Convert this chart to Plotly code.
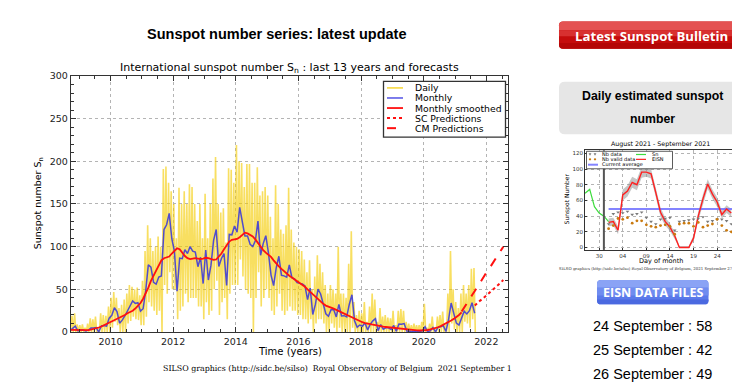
import plotly.graph_objects as go

W, H = 732, 390


def px(x):
    return x / W


def py(y):
    return 1 - y / H


# ---------------- International sunspot number, last 13 years ----------------
first_year, first_month = 2008, 9

monthly_sn = [
    1.8, 4.8, 6.8, 1.3,
    2.4, 2.3, 1.2, 2.0, 4.6, 4.6, 5.2, 0.0, 7.1, 7.7, 6.9, 16.3,
    19.5, 28.5, 24.0, 10.4, 13.9, 18.8, 25.2, 29.6, 36.4, 33.6, 34.4, 24.5,
    27.3, 48.3, 78.6, 76.1, 58.2, 56.1, 64.5, 65.8, 120.1, 125.7, 139.1, 109.3,
    94.4, 47.8, 86.6, 85.9, 96.5, 92.0, 100.1, 94.8, 93.7, 76.5, 87.6, 56.8,
    96.1, 60.9, 78.3, 107.3, 120.2, 76.7, 86.2, 91.8, 54.5, 114.4, 113.9, 124.2,
    117.0, 146.1, 128.7, 112.5, 112.5, 102.9, 100.2, 106.9, 130.0, 90.0, 103.6, 112.9,
    93.0, 66.7, 54.5, 75.3, 88.8, 66.5, 65.8, 64.4, 78.6, 63.6, 62.2, 58.0,
    57.0, 56.4, 54.1, 37.9, 51.5, 20.5, 32.4, 50.2, 44.6, 33.4, 21.4, 18.5,
    26.1, 26.4, 17.7, 32.3, 18.9, 19.2, 17.8, 32.6, 43.7, 13.2, 5.7, 8.2,
    6.8, 10.7, 2.5, 8.9, 13.1, 15.6, 1.6, 8.7, 3.3, 4.9, 4.9, 3.1,
    7.7, 0.8, 9.4, 9.1, 9.9, 1.2, 0.9, 0.5, 1.1, 0.4, 0.5, 1.5,
    6.2, 0.2, 1.5, 5.2, 0.2, 5.8, 6.1, 7.5, 0.6, 14.4, 34.0, 21.8,
    10.4, 8.2, 17.2, 24.5, 21.2, 25.0, 34.3, 22.0,
]

# highest and lowest daily value within each month
daily_high = [
    14, 19, 22, 9,
    8, 9, 5, 10, 16, 15, 18, 5, 22, 20, 19, 30,
    40, 47, 40, 28, 32, 38, 45, 55, 53, 50, 52, 43,
    60, 95, 125, 110, 95, 100, 112, 100, 191, 194, 175, 165,
    150, 110, 169, 150, 165, 150, 173, 170, 150, 130, 150, 110,
    162, 110, 150, 180, 205, 150, 140, 145, 105, 192, 190, 175,
    219, 200, 198, 170, 197, 197, 175, 175, 193, 160, 165, 170,
    160, 135, 110, 172, 150, 120, 115, 125, 169, 120, 105, 100,
    97, 95, 85, 70, 84, 50, 65, 90, 80, 70, 55, 45,
    55, 50, 45, 100, 45, 45, 40, 80, 118, 35, 20, 25,
    22, 35, 12, 30, 45, 38, 12, 28, 18, 20, 17, 16,
    25, 8, 25, 27, 25, 12, 10, 8, 10, 8, 8, 12,
    33, 5, 10, 18, 5, 18, 20, 24, 8, 45, 95, 50,
    35, 28, 45, 55, 45, 55, 74, 75,
]
daily_low = [
    0, 0, 0, 0,
    0, 0, 0, 0, 0, 0, 0, 0, 0, 0, 0, 0,
    5, 12, 8, 0, 0, 0, 10, 13, 18, 15, 14, 8,
    8, 18, 35, 30, 25, 20, 25, 0, 55, 45, 70, 50,
    50, 15, 25, 30, 45, 35, 40, 40, 40, 30, 30, 15,
    35, 20, 25, 50, 60, 20, 35, 40, 15, 45, 55, 55,
    55, 85, 65, 50, 45, 40, 0, 40, 70, 30, 40, 50,
    40, 25, 20, 30, 45, 25, 20, 25, 30, 25, 25, 20,
    20, 15, 15, 10, 15, 0, 10, 15, 15, 10, 0, 0,
    10, 5, 0, 5, 0, 0, 0, 0, 5, 0, 0, 0,
    0, 0, 0, 0, 0, 0, 0, 0, 0, 0, 0, 0,
    0, 0, 0, 0, 0, 0, 0, 0, 0, 0, 0, 0,
    0, 0, 0, 0, 0, 0, 0, 0, 0, 0, 10, 3,
    0, 0, 0, 12, 10, 5, 15, 0,
]

smoothed_sn = [
    2.6, 2.5, 2.4, 2.2,
    1.9, 2.0, 2.1, 2.3, 2.8, 3.4, 4.2, 5.3, 6.5, 8.0, 9.5, 11.0,
    12.5, 14.0, 15.5, 16.5, 18.0, 20.0, 22.0, 23.5, 25.0, 27.5, 30.5, 34.0,
    39.0, 45.0, 52.0, 60.0, 66.0, 73.0, 79.0, 84.0, 86.5, 87.5, 88.5, 92.0,
    95.5, 98.0, 97.0, 93.0, 89.0, 86.5, 85.5, 86.0, 86.5, 86.0, 85.5, 86.0,
    87.0, 86.5, 85.5, 84.5, 85.0, 88.0, 92.0, 97.0, 102.0, 106.0, 108.0, 108.5,
    109.0, 111.0, 114.0, 116.4, 115.5, 114.0, 112.0, 108.5, 104.0, 100.0, 96.0, 93.0,
    91.0, 88.0, 84.0, 80.0, 77.0, 74.0, 71.0, 68.0, 66.0, 64.0, 62.0, 60.0,
    58.0, 56.0, 53.0, 50.0, 47.0, 44.0, 41.0, 38.0, 35.0, 33.0, 31.0, 30.0,
    29.0, 27.5, 26.0, 24.5, 23.0, 21.5, 20.0, 18.5, 17.0, 15.5, 14.0, 12.5,
    11.5, 10.5, 9.8, 9.0, 8.3, 7.7, 7.2, 6.8, 6.3, 5.9, 5.5, 5.0,
    4.6, 4.2, 3.9, 3.6, 3.3, 3.0, 2.7, 2.4, 2.1, 1.9, 1.8, 1.8,
    2.0, 2.4, 3.0, 3.7, 4.5, 5.6, 6.9, 8.4, 10.0, 11.7, 13.5, 15.4,
    17.5, 20.0, 23.0,
]

# forecasts (decimal year, predicted smoothed number)
cm_years = [2021.21, 2021.29, 2021.38, 2021.46, 2021.54, 2021.63, 2021.71, 2021.79,
            2021.88, 2021.96, 2022.04, 2022.13, 2022.21, 2022.29, 2022.38, 2022.46, 2022.54]
cm_values = [24, 29, 34, 38.5, 43, 48, 53, 58, 62.5, 67, 72, 76.5, 81, 86, 90.5, 95, 100]
sc_years = [2021.63, 2021.71, 2021.79, 2021.88, 2021.96, 2022.04, 2022.13, 2022.21,
            2022.29, 2022.38, 2022.46, 2022.54]
sc_values = [31, 34, 36.5, 39, 41.5, 44, 47, 49.5, 52, 55, 58, 61]

x_ticks = [2010, 2012, 2014, 2016, 2018, 2020, 2022]
y_ticks = [0, 50, 100, 150, 200, 250, 300]

# ---------------- Daily estimated sunspot number (EISN) ----------------
sn_days = [27, 28, 29, 30, 31, 32]
sn_values = [69, 74, 52, 44, 40, 33]
eisn_days = [32, 33, 34, 35, 36, 37, 38, 39, 40, 41, 42, 43, 44, 45, 46, 47, 48,
             49, 50, 51, 52, 53, 54, 55, 56, 57, 58]
eisn_values = [32, 33, 22, 67, 72, 83, 80, 96, 96, 94, 70, 45, 33, 26, 15, 0, 0,
               0, 12, 40, 62, 81, 68, 58, 42, 49, 44]
eisn_error = [5, 5, 5, 7, 7, 7, 7, 7, 6, 6, 6, 6, 5, 5, 4, 2, 2,
              2, 4, 6, 6, 6, 6, 6, 5, 5, 5]
nb_data = [30, 43, 45, 44, 46, 42, 43, 45, 38, 33, 30, 36, 37, 38, 22, 33, 34,
           35, 36, 37, 39, 33, 34, 36, 36, 34, 30]
nb_valid = [24, 28, 37, 36, 38, 31, 34, 34, 29, 27, 26, 28, 29, 27, 17, 30, 31,
            31, 27, 32, 26, 28, 30, 36, 28, 22, 20]
current_average = 49
day_ticks = [30, 35, 40, 45, 50, 55]
day_labels = ["30", "04", "09", "14", "19", "24"]
listed_days = ["24 September", "25 September", "26 September"]

# ---------------- figure ----------------
month_t = [first_year + (first_month - 1 + i + 0.5) / 12 for i in range(len(monthly_sn))]
smooth_t = month_t[:len(smoothed_sn)]

daily_x, daily_y = [], []
for t, hi, lo in zip(month_t, daily_high, daily_low):
    daily_x += [t - 1 / 48, t + 1 / 48]
    daily_y += [hi, lo]

YELLOW = "rgba(243,203,0,0.62)"
BLUE = "rgba(50,50,225,0.85)"
RED = "#ff1010"

fig = go.Figure()
fig.add_trace(go.Scatter(x=daily_x, y=daily_y, mode="lines",
                         line=dict(color=YELLOW, width=1.6), xaxis="x", yaxis="y"))
fig.add_trace(go.Scatter(x=month_t, y=monthly_sn, mode="lines",
                         line=dict(color=BLUE, width=1.5), xaxis="x", yaxis="y"))
fig.add_trace(go.Scatter(x=smooth_t, y=smoothed_sn, mode="lines",
                         line=dict(color=RED, width=1.8), xaxis="x", yaxis="y"))
fig.add_trace(go.Scatter(x=cm_years, y=cm_values, mode="lines",
                         line=dict(color=RED, width=2, dash="dash"), xaxis="x", yaxis="y"))
fig.add_trace(go.Scatter(x=sc_years, y=sc_values, mode="lines",
                         line=dict(color=RED, width=2, dash="dot"), xaxis="x", yaxis="y"))

# EISN panel
band_x = eisn_days + eisn_days[::-1]
band_y = [v + e for v, e in zip(eisn_values, eisn_error)] + \
         [max(v - e, 0) for v, e in zip(eisn_values, eisn_error)][::-1]
fig.add_trace(go.Scatter(x=band_x, y=band_y, fill="toself", mode="lines",
                         fillcolor="rgba(150,150,150,0.55)", line=dict(width=0),
                         xaxis="x2", yaxis="y2"))
fig.add_trace(go.Scatter(x=[eisn_days[0], 60], y=[current_average, current_average],
                         mode="lines", line=dict(color="rgba(110,110,255,0.85)", width=2),
                         xaxis="x2", yaxis="y2"))
fig.add_trace(go.Scatter(x=sn_days, y=sn_values, mode="lines",
                         line=dict(color="#3ddc3d", width=1.2), xaxis="x2", yaxis="y2"))
fig.add_trace(go.Scatter(x=eisn_days, y=eisn_values, mode="lines",
                         line=dict(color="#ff2020", width=1.4), xaxis="x2", yaxis="y2"))
fig.add_trace(go.Scatter(x=eisn_days, y=nb_data, mode="markers",
                         marker=dict(symbol="triangle-down", size=3.2, color="#7a7a7a"),
                         xaxis="x2", yaxis="y2"))
fig.add_trace(go.Scatter(x=eisn_days, y=nb_valid, mode="markers",
                         marker=dict(symbol="circle", size=2.8, color="#c97a10"),
                         xaxis="x2", yaxis="y2"))

AX = "#333333"
GRID = "#b4b4b4"
main_font = dict(family="DejaVu Sans", size=9.5, color="#222222")
fig.update_layout(
    width=W, height=H, autosize=False,
    margin=dict(l=0, r=0, t=0, b=0),
    paper_bgcolor="white", plot_bgcolor="white",
    showlegend=False,
    xaxis=dict(domain=[px(71), px(508)], range=[2008.74, 2022.69],
               tickvals=x_ticks, ticktext=[str(v) for v in x_ticks],
               ticks="inside", ticklen=5, tickwidth=1, tickcolor=AX,
               minor=dict(dtick=0.5, tick0=2010, ticks="inside", ticklen=2.5, tickcolor=AX),
               showline=True, linecolor=AX, linewidth=1.4, mirror="allticks",
               showgrid=True, gridcolor=GRID, griddash="dot", gridwidth=1,
               zeroline=False, tickfont=main_font, anchor="y"),
    yaxis=dict(domain=[py(335.5), py(72)], range=[0, 300],
               tickvals=y_ticks, ticktext=[str(v) for v in y_ticks],
               ticks="inside", ticklen=5, tickwidth=1, tickcolor=AX,
               minor=dict(dtick=10, tick0=0, ticks="inside", ticklen=2.5, tickcolor=AX),
               showline=True, linecolor=AX, linewidth=1.4, mirror="allticks",
               showgrid=True, gridcolor=GRID, griddash="dot", gridwidth=1,
               zeroline=False, tickfont=main_font, anchor="x"),
    xaxis2=dict(domain=[px(585), 1.0], range=[27, 58.15],
                tickvals=day_ticks, ticktext=day_labels,
                ticks="inside", ticklen=2, tickcolor=AX,
                showline=True, linecolor=AX, linewidth=1, mirror=True,
                showgrid=True, gridcolor=GRID, griddash="dot", gridwidth=0.6,
                zeroline=False, tickfont=dict(family="DejaVu Sans", size=5.5, color="#333"),
                anchor="y2"),
    yaxis2=dict(domain=[py(251), py(148.5)], range=[-3, 123.8],
                tickvals=[0, 20, 40, 60, 80, 100, 120],
                ticks="inside", ticklen=2, tickcolor=AX,
                showline=True, linecolor=AX, linewidth=1, mirror=False,
                showgrid=True, gridcolor=GRID, griddash="dot", gridwidth=0.6,
                zeroline=False, tickfont=dict(family="DejaVu Sans", size=5.5, color="#333"),
                anchor="x2"),
)

shapes = []
annotations = []


def text(x, y, s, size, family="DejaVu Sans", color="black", xanchor="center",
         angle=0, weight="normal"):
    annotations.append(dict(
        x=px(x), y=py(y), xref="paper", yref="paper", text=s, showarrow=False,
        xanchor=xanchor, yanchor="middle", textangle=angle,
        font=dict(family=family, size=size, color=color, weight=weight)))


def rounded(x0, y0, x1, y1, rt, rb):
    def P(x, y):
        return f"{px(x):.5f},{py(y):.5f}"
    return (f"M {P(x0 + rt, y0)} L {P(x1 - rt, y0)} Q {P(x1, y0)} {P(x1, y0 + rt)} "
            f"L {P(x1, y1 - rb)} Q {P(x1, y1)} {P(x1 - rb, y1)} "
            f"L {P(x0 + rb, y1)} Q {P(x0, y1)} {P(x0, y1 - rb)} "
            f"L {P(x0, y0 + rt)} Q {P(x0, y0)} {P(x0 + rt, y0)} Z")


def box(x0, y0, x1, y1, fill, line_color=None, line_width=0, rt=0, rb=0, layer="below"):
    shapes.append(dict(type="path", xref="paper", yref="paper",
                       path=rounded(x0, y0, x1, y1, rt, rb), fillcolor=fill,
                       line=dict(color=line_color or fill, width=line_width), layer=layer))


def seg(x0, y0, x1, y1, color, width, dash="solid"):
    shapes.append(dict(type="line", xref="paper", yref="paper",
                       x0=px(x0), y0=py(y0), x1=px(x1), y1=py(y1),
                       line=dict(color=color, width=width, dash=dash), layer="above"))


# page heading and chart texts
text(276, 28.5, "Sunspot number series: latest update", 14.5,
     family="Liberation Sans", weight="bold")
text(289.5, 64, "International sunspot number S<sub>n</sub> : last 13 years and forecasts", 11)
text(38, 203, "Sunspot number S<sub>n</sub>", 9.5, angle=-90)
text(290, 356, "Time (years)", 10)
text(337.5, 373.5, "SILSO graphics (http://sidc.be/silso)  Royal Observatory of Belgium  2021 September 1",
     7.9, family="DejaVu Serif")

# legend of the main chart
shapes.append(dict(type="rect", xref="paper", yref="paper", x0=px(383.5), x1=px(505.5),
                   y0=py(135), y1=py(77.5), fillcolor="white",
                   line=dict(color=AX, width=1.3), layer="above"))
legend_rows = [("Daily", "rgba(243,203,0,0.8)", "solid", 1.5), ("Monthly", BLUE, "solid", 1.5),
               ("Monthly smoothed", RED, "solid", 1.8), ("SC Predictions", RED, "dot", 2),
               ("CM Predictions", RED, "dash", 2)]
for k, (label, col, dash, wd) in enumerate(legend_rows):
    yy = 84.3 + k * 10.35
    seg(387, yy, 403, yy, col, wd, dash)
    text(413, yy, label, 9.3, xanchor="left")

# right column: bulletin button
box(559, 16, 760, 44, "#c50c0c", rt=4, rb=4)
box(559, 16, 760, 25, "#e45252", rt=4, rb=0)
box(559, 25, 760, 31, "#d83030", rt=0, rb=0)
box(559, 38, 760, 44, "#b40606", rt=0, rb=4)
text(573, 30.5, "Latest Sunspot Bulletin", 13.2, family="Open Sans", color="white",
     xanchor="left", weight="bold")

# right column: EISN panel header
box(559, 78, 760, 132, "#e6e6e6", rt=6, rb=6)
text(652.5, 93, "Daily estimated sunspot", 12.3, family="Liberation Sans", weight="bold")
text(652.5, 116, "number", 12.3, family="Liberation Sans", weight="bold")

# EISN panel texts
text(660.5, 141.5, "August 2021 - September 2021", 6.3)
text(661, 262.5, "Day of month", 6.5)
text(567, 199, "Sunspot Number", 6, angle=-90)
text(557, 270.5, "SILSO graphics (http://sidc.be/silso) Royal Observatory of Belgium, 2021 September 27",
     3.9, family="DejaVu Serif", color="#333", xanchor="left")
shapes.append(dict(type="line", xref="x2", yref="paper", x0=31, x1=31,
                   y0=py(251), y1=py(148.5), line=dict(color="#555555", width=2), layer="above"))

# EISN panel legend
shapes.append(dict(type="rect", xref="paper", yref="paper", x0=px(586.5), x1=px(672.5),
                   y0=py(167.5), y1=py(149.5), fillcolor="white",
                   line=dict(color="#333", width=0.8), layer="above"))
for xx in (590, 595):
    shapes.append(dict(type="path", xref="paper", yref="paper",
                       path=f"M {px(xx - 1.4):.5f},{py(151.6):.5f} L {px(xx + 1.4):.5f},{py(151.6):.5f} "
                            f"L {px(xx):.5f},{py(154):.5f} Z",
                       fillcolor="#7a7a7a", line=dict(width=0), layer="above"))
    shapes.append(dict(type="circle", xref="paper", yref="paper",
                       x0=px(xx - 1.2), x1=px(xx + 1.2), y0=py(159), y1=py(156.6),
                       fillcolor="#c97a10", line=dict(width=0), layer="above"))
seg(588, 163.3, 598, 163.3, "rgba(110,110,255,0.85)", 2)
seg(636, 152.8, 646, 152.8, "#3ddc3d", 1.2)
seg(636, 157.8, 646, 157.8, "#ff2020", 1.2)
text(600, 152.8, "Nb data", 5, xanchor="left")
text(600, 157.8, "Nb valid data", 5, xanchor="left")
text(600, 163.3, "Current average", 5, xanchor="left")
text(650, 152.8, "Sn", 5, xanchor="left")
text(650, 157.8, "EISN", 5, xanchor="left")

# EISN data files button
box(597, 282, 708.5, 307, "#5a79ea", rt=4, rb=4)
box(597, 282, 708.5, 290, "#8aa3f5", rt=4, rb=0)
box(597, 290, 708.5, 298, "#6f8cf0", rt=0, rb=0)
box(597, 302, 708.5, 307, "#4b69e0", rt=0, rb=4)
text(652.7, 294.5, "EISN DATA FILES", 12.5, family="Open Sans", color="white", weight="bold")

# latest daily values
for k, day in enumerate(listed_days):
    val = eisn_values[eisn_days.index(31 + int(day.split()[0]))]
    text(652.5, 329 + k * 25, f"{day} : {val}", 14.5, family="Liberation Sans")

fig.update_layout(shapes=shapes, annotations=annotations)
fig.write_html("out.html")
